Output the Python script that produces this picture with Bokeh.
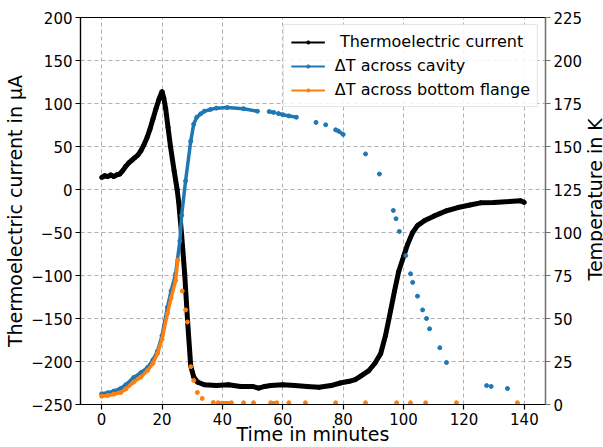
import math
from bokeh.plotting import figure
from bokeh.layouts import row
from bokeh.models import Range1d, LinearAxis, Legend, LegendItem, ColumnDataSource
from bokeh.core.properties import value
from bokeh.embed import file_html
from bokeh.resources import INLINE

nan = float("nan")

# Thermoelectric current (left axis, µA)
time_current = [0, 1, 2, 3, 4, 5, 6, 7, 8, 9, 10, 11, 12, 13, 14, 15, 16, 17, 18, 19,
                20, 20.6, 21.2, 22, 22.8, 24, 25, 25.5, 26.5, 27.5, 28.5, 29.5, 30.5, 31.8,
                34, 38, 42, 46, 50, 52, 54, 56, 60, 64, 68, 72, 76, 79, 82, 84, 85.8, 88.4,
                90.5, 92.4, 94, 95.7, 97, 98.4, 100, 101.3, 103, 104.6, 107, 110, 112, 114,
                118, 122, 125.5, 130, 135, 138.7, 140]
current = [14, 16, 15, 17, 15, 17, 18, 22, 27, 31, 34, 37, 40, 45, 52, 60, 70, 82, 94, 105,
           114, 106, 94, 72, 50, 22, 0, -14, -53, -98, -155, -205, -218, -224,
           -227, -228, -227, -229, -229, -231, -229, -228, -227, -228, -229, -230, -228, -225, -223, -221, -217, -211,
           -202, -191, -170, -141, -118, -95, -78, -64, -50, -42, -36, -31, -28, -25,
           -21, -18, -15.5, -15, -14, -13, -15]

# Delta T across cavity (right axis, K); nan marks gaps in the record
time_cavity = [0, 2, 4, 6.3, 8, 10.6, 13, 15.2, 17, 18.5, 20, 21.8, 23, 24.5, 25.9, 26.5,
               27.8, 29.5, 30.5, 31.5, 32.8, 34, 36, 38, 41.6, 47, 51.6,
               nan, 55.5, 57, nan, 58.5, 60, 62, 64.5, nan, 71, nan, 74.2, nan, 77.5, 78.4, 80,
               nan, 87.4, nan, 92, nan, 96.6, nan, 97.5, nan, 98.6, nan, 100.7, nan, 102.3,
               nan, 103, nan, 104.6, nan, 106.3, nan, 107.6, nan, 108.6, nan, 112, nan, 114.2,
               nan, 127.5, nan, 129, nan, 134.4]
dT_cavity = [6.2, 6.8, 7.8, 9.3, 11.5, 15.7, 18.5, 21.5, 26, 31, 40, 56.6, 66, 76, 95, 110,
             130, 153, 163, 167, 169, 170.5, 171.5, 172.3, 172.7, 172, 170.5,
             nan, 170.3, 169.8, nan, 169.2, 168.5, 167.8, 167, nan, 164, nan, 162.6, nan, 159.7, 159, 157,
             nan, 145.7, nan, 134, nan, 112.8, nan, 108, nan, 100.6, nan, 86.6, nan, 76,
             nan, 71, nan, 63, nan, 55, nan, 50, nan, 44, nan, 33, nan, 24.4,
             nan, 11, nan, 10.5, nan, 9.3]

# Delta T across bottom flange (right axis, K)
time_flange = [0, 2, 4, 6.3, 8, 10.6, 13, 15.2, 17, 18.5, 20, 21.8, 23, 24.5, 25.2,
               nan, 26.7, nan, 27.8, nan, 28.4, nan, 29.5, nan, 30.5, nan, 31.7, nan, 33.3,
               nan, 37, nan, 38.6, 43, nan, 47, nan, 50.3, nan, 56, 58, nan, 62, nan, 67.5,
               nan, 77.5, nan, 87.4, nan, 97.7, nan, 102.3, nan, 107.3, nan, 117.5, nan, 137.7]
dT_flange = [4.8, 5.2, 6, 7, 9, 13, 16, 19.8, 24, 29.6, 38, 53, 62, 72, 84,
             nan, 66, nan, 55, nan, 48, nan, 22, nan, 14, nan, 7, nan, 3.5,
             nan, 1.2, nan, 1.0, 1.0, nan, 1.0, nan, 1.0, nan, 1.0, 1.0, nan, 1.0, nan, 1.0,
             nan, 1.0, nan, 1.0, nan, 1.0, nan, 1.0, nan, 1.0, nan, 1.0, nan, 1.0]

x_ticks = [0, 20, 40, 60, 80, 100, 120, 140]
left_ticks = [-250, -200, -150, -100, -50, 0, 50, 100, 150, 200]
right_ticks = [0, 25, 50, 75, 100, 125, 150, 175, 200, 225]
right_title = "Temperature in K"

BLACK = "#000000"
BLUE = "#1f77b4"
ORANGE = "#ff7f0e"
FONT = "DejaVu Sans"

p = figure(width=585, height=447, x_range=Range1d(-7, 147), y_range=Range1d(-250, 200),
           output_backend="svg", toolbar_location=None,
           min_border_left=80, min_border_right=40, min_border_top=17, min_border_bottom=43)
p.extra_y_ranges = {"temp": Range1d(0, 225)}
p.background_fill_color = "white"
p.border_fill_color = "white"
p.outline_line_color = "black"
p.outline_line_width = 1.2

# axes
p.xaxis.ticker = x_ticks
p.yaxis.ticker = left_ticks
p.yaxis.major_label_overrides = {v: ("\u2212" + str(abs(v)) if v < 0 else str(v)) for v in left_ticks}
p.xaxis.axis_label = "Time in minutes"
p.yaxis.axis_label = "Thermoelectric current in \u03bcA"

right = LinearAxis(y_range_name="temp", ticker=right_ticks)
p.add_layout(right, "right")

for ax in [p.xaxis[0], p.yaxis[0], right]:
    ax.major_label_text_font = FONT
    ax.major_label_text_font_size = "15px"
    ax.major_label_text_color = "black"
    ax.axis_label_text_font = FONT
    ax.axis_label_text_font_size = "19px"
    ax.axis_label_text_font_style = "normal"
    ax.axis_label_text_color = "black"
    ax.major_tick_out = 5
    ax.major_tick_in = 0
    ax.minor_tick_line_color = None
    ax.axis_line_width = 1.2
    ax.major_tick_line_width = 1.2
    ax.major_label_standoff = 3
    ax.axis_label_standoff = 2
right.axis_line_color = "#707070"
right.major_tick_line_color = "#707070"
p.xaxis.axis_label_standoff = -5

# grid
for g in [p.xgrid[0], p.ygrid[0]]:
    g.grid_line_color = "#b0b0b0"
    g.grid_line_dash = "4 3"
    g.grid_line_width = 1

src_cur = ColumnDataSource(dict(t=time_current, v=current))
src_cav = ColumnDataSource(dict(t=time_cavity, v=dT_cavity))
src_fl = ColumnDataSource(dict(t=time_flange, v=dT_flange))

p.line("t", "v", source=src_cur, color=BLACK, line_width=5)
p.scatter("t", "v", source=src_cur, color=BLACK, size=4)

p.line("t", "v", source=src_cav, color=BLUE, line_width=3.5, y_range_name="temp")
p.scatter("t", "v", source=src_cav, color=BLUE, size=4, y_range_name="temp")

p.line("t", "v", source=src_fl, color=ORANGE, line_width=3.5, y_range_name="temp")
p.scatter("t", "v", source=src_fl, color=ORANGE, size=4, y_range_name="temp")

# legend glyphs (thin line + dot), one point kept far outside the visible ranges
lg = []
for c in [BLACK, BLUE, ORANGE]:
    l = p.line(x=[-1000, -999], y=[-5000, -5000], color=c, line_width=2)
    s = p.scatter(x=[-1000], y=[-5000], color=c, size=4)
    lg.append([l, s])

legend = Legend(items=[
    LegendItem(label="\u00a0Thermoelectric current", renderers=lg[0]),
    LegendItem(label="\u0394T across cavity", renderers=lg[1]),
    LegendItem(label="\u0394T across bottom flange", renderers=lg[2]),
], location="top_right")
legend.label_text_font = FONT
legend.label_text_font_size = "16px"
legend.label_text_color = "black"
legend.glyph_width = 34
legend.glyph_height = 8
legend.label_standoff = 10
legend.spacing = 5
legend.padding = 7
legend.margin = 7
legend.border_line_color = "#cccccc"
legend.border_line_width = 1
legend.background_fill_alpha = 0.85
p.add_layout(legend)

# narrow strip to the right carrying the right-axis title, reading bottom to top
strip = figure(width=18, height=447, x_range=Range1d(0, 1), y_range=Range1d(0, 1),
               output_backend="svg", toolbar_location=None, min_border=0)
strip.axis.visible = False
strip.grid.visible = False
strip.outline_line_color = None
strip.background_fill_color = "white"
strip.border_fill_color = "white"
strip.text(x=[0.5], y=[0.53], text=[right_title], angle=math.pi / 2,
           text_align="center", text_baseline="middle",
           text_font=value(FONT), text_font_size="19px", text_color="black")

layout = row(p, strip)
open("out.html", "w").write(file_html(layout, INLINE))
